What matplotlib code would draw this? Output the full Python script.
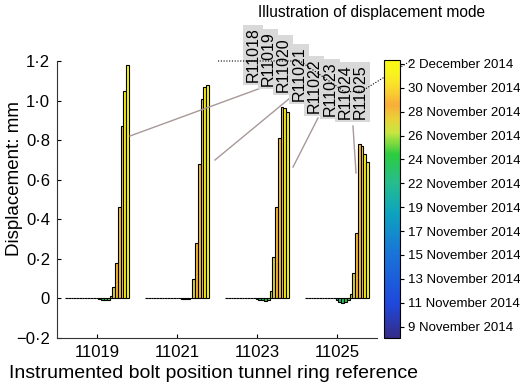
import numpy as np
import matplotlib.pyplot as plt
from matplotlib.colors import LinearSegmentedColormap, Normalize
from matplotlib.cm import ScalarMappable

plt.rcParams['font.family'] = ['Liberation Sans', 'DejaVu Sans']

# instrumented rings on the x axis
rings = [11019, 11021, 11023, 11025]

# survey days, numbered from 1 November (31 = 1 Dec, 32 = 2 Dec)
days = [9, 10, 11, 12, 13, 14, 15, 16, 17, 18, 19, 21, 22, 23, 24, 25, 26,
        27, 28, 29, 30, 31, 32]

# displacement (mm) for each survey, per ring
d11019 = [0.002, 0.001, 0.002, 0.001, 0.002, 0.001, 0.001, 0.002, 0.001, 0.001, 0.001,
          0.0, -0.003, -0.006, -0.008, -0.006, 0.01, 0.06, 0.18, 0.46, 0.87, 1.05, 1.18]
d11021 = [0.002, 0.001, 0.001, 0.002, 0.001, 0.001, 0.002, 0.001, 0.001, 0.001, 0.001,
          0.0, 0.0, -0.002, -0.004, -0.003, 0.002, 0.10, 0.28, 0.68, 1.01, 1.07, 1.08]
d11023 = [0.002, 0.001, 0.001, 0.001, 0.002, 0.001, 0.001, 0.001, 0.002, 0.001, 0.001,
          -0.002, -0.006, -0.01, -0.012, -0.008, 0.04, 0.21, 0.46, 0.81, 0.97, 0.96, 0.94]
d11025 = [0.002, 0.001, 0.001, 0.002, 0.001, 0.001, 0.001, 0.002, 0.001, 0.001, 0.001,
          -0.01, -0.02, -0.025, -0.02, -0.01, 0.02, 0.13, 0.33, 0.78, 0.77, 0.73, 0.69]

ytick_vals = [-0.2, 0, 0.2, 0.4, 0.6, 0.8, 1.0, 1.2]
ytick_text = ['\u22120\u00b72', '0', '0\u00b72', '0\u00b74', '0\u00b76', '0\u00b78', '1\u00b70', '1\u00b72']

cbar_ticks = np.linspace(9, 32, 12)
cbar_text = ['9 November 2014', '11 November 2014', '13 November 2014', '15 November 2014',
             '17 November 2014', '19 November 2014', '22 November 2014', '24 November 2014',
             '26 November 2014', '28 November 2014', '30 November 2014', '2 December 2014']

# illustration labels (rings drawn in the sketch above the plot)
sketch_labels = ['R11018', 'R11019', 'R11020', 'R11021', 'R11022', 'R11023', 'R11024', 'R11025']

# parula-like colormap
parula = LinearSegmentedColormap.from_list('parula_like', [
    (0.00, (0.21, 0.17, 0.53)),
    (0.12, (0.12, 0.28, 0.86)),
    (0.30, (0.10, 0.45, 0.85)),
    (0.45, (0.05, 0.64, 0.75)),
    (0.56, (0.15, 0.74, 0.55)),
    (0.66, (0.17, 0.80, 0.25)),
    (0.74, (0.78, 0.90, 0.25)),
    (0.79, (0.92, 0.82, 0.22)),
    (0.84, (0.97, 0.68, 0.22)),
    (0.90, (0.98, 0.85, 0.18)),
    (0.95, (0.97, 0.95, 0.12)),
    (1.00, (0.98, 0.98, 0.08)),
])
norm = Normalize(vmin=8.0, vmax=32.35)

W, H = 520, 386
fig = plt.figure(figsize=(W / 100, H / 100), dpi=100)
ax = fig.add_axes([57 / W, 48 / H, 320 / W, 277 / H])

values = np.array([d11019, d11021, d11023, d11025])
n = len(days)
w = 1.6 / n
offsets = (np.arange(n) - (n - 1) / 2) * w
for j, day in enumerate(days):
    ax.bar(np.array(rings) + offsets[j], values[:, j], width=w,
           color=parula(norm(day)), edgecolor='black', linewidth=0.8)

ax.set_xlim(11018, 11026)
ax.set_ylim(-0.2, 1.2)
ax.set_xticks(rings)
ax.set_xticklabels([str(r) for r in rings], fontsize=12)
ax.set_yticks(ytick_vals)
ax.set_yticklabels(ytick_text, fontsize=12)
ax.tick_params(direction='in', length=3, width=0.8, pad=5)
for s in ['top', 'right']:
    ax.spines[s].set_visible(False)
for s in ['left', 'bottom']:
    ax.spines[s].set_color('#333333')
    ax.spines[s].set_linewidth(0.8)
ax.set_ylabel('Displacement: mm', fontsize=13.5)
ax.yaxis.set_label_coords(-42 / 320, (338 - 178) / 277)
ax.set_xlabel('Instrumented bolt position tunnel ring reference', fontsize=14)
ax.xaxis.set_label_coords((213 - 57) / 320, -(374 - 338) / 277)
ax.xaxis.label.set_va('center')
ax.yaxis.label.set_va('center')

# sketch overlay in figure pixels
ov = fig.add_axes([0, 0, 1, 1], zorder=1)
ov.set_xlim(0, W)
ov.set_ylim(H, 0)
ov.set_axis_off()

box_x = [253, 268, 283, 299, 314, 330, 345, 360]
box_y = [55, 59, 65, 74, 86, 89, 92, 92]
for lab, bx, by in zip(sketch_labels, box_x, box_y):
    ov.text(bx, by, lab, rotation=90, ha='center', va='center', fontsize=11.5,
            bbox=dict(boxstyle='square,pad=0.15', fc='#d9d9d9', ec='none'), zorder=3)

# leader lines from the sketch to the bars
leaders = [((261, 88), (130, 136)), ((290, 98), (215, 160)),
           ((318, 118), (293, 167)), ((353, 126), (356, 173))]
for (x0, y0), (x1, y1) in leaders:
    ov.plot([x0, x1], [y0, y1], color='#a89898', linewidth=1.0, zorder=2)

# displacement mode profile (dotted)
ov.plot([218, 300, 345, 362, 412], [61, 61, 92, 91, 60], color='black',
        linestyle=(0, (1, 1.5)), linewidth=0.8, zorder=4)

fig.text(372 / W, 1 - 12 / H, 'Illustration of displacement mode', ha='center', va='center', fontsize=11.2)

cax = fig.add_axes([384 / W, 48 / H, 16 / W, 278 / H], zorder=2)
cb = fig.colorbar(ScalarMappable(norm=norm, cmap=parula), cax=cax)
cb.set_ticks(cbar_ticks)
cb.set_ticklabels(cbar_text)
cb.ax.tick_params(length=3, width=0.8, labelsize=9.5, pad=3)
cb.outline.set_linewidth(0.8)

fig.savefig('out.png', dpi=100)
